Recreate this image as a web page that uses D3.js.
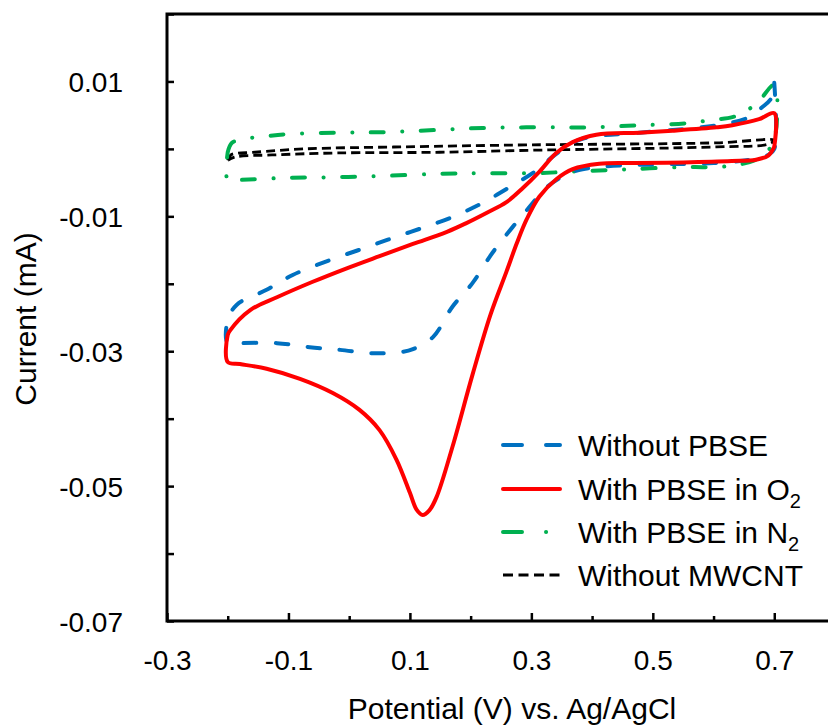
<!DOCTYPE html>
<html><head><meta charset="utf-8">
<script src="https://cdn.jsdelivr.net/npm/d3@7"></script>
<style>
body{margin:0;background:#fff}
svg{display:block;background:#fff}
text{font-family:"Liberation Sans",Arial,sans-serif;fill:#000}
</style>
</head><body>
<svg id="chart" width="828" height="728"></svg>
<script>
// ---- data (potential V, current mA) ----
const xTickLabels = ["-0.3","-0.1","0.1","0.3","0.5","0.7"];
const xMinorTicks = [-0.2, 0.0, 0.2, 0.4, 0.6];
const yTickLabels = ["-0.07","-0.05","-0.03","-0.01","0.01"];
const yMinorTicks = [-0.06, -0.04, -0.02, 0.0, 0.02];

const legendLabels = ["Without PBSE", "With PBSE in O", "With PBSE in N", "Without MWCNT"];
const legendSubs = ["", "2", "2", ""];

const withoutPBSE = [
  [0.700, 0.0098],[0.700, 0.0000],[0.690,-0.0009],[0.667,-0.0015],[0.600,-0.0021],
  [0.500,-0.0023],[0.420,-0.0026],[0.380,-0.0031],[0.358,-0.0038],[0.325,-0.0057],
  [0.297,-0.0086],[0.269,-0.0116],[0.236,-0.0154],[0.203,-0.0199],[0.170,-0.0234],
  [0.138,-0.0279],[0.105,-0.0297],[0.088,-0.0301],[0.039,-0.0303],[-0.015,-0.0298],
  [-0.065,-0.0294],[-0.119,-0.0288],[-0.180,-0.0288],[-0.200,-0.0288],[-0.200,-0.0254],
  [-0.185,-0.0231],[-0.136,-0.0209],[-0.093,-0.0187],[-0.032,-0.0165],[0.022,-0.0148],
  [0.072,-0.0132],[0.121,-0.0117],[0.170,-0.0101],[0.220,-0.0080],[0.269,-0.0054],
  [0.302,-0.0036],[0.346,-0.0004],[0.384, 0.0015],[0.478, 0.0024],[0.605, 0.0035],
  [0.659, 0.0047],[0.679, 0.0061],[0.695, 0.0075],[0.700, 0.0098]
];

const withPBSEinO2 = [
  [0.700, 0.0003],[0.690,-0.0010],[0.670,-0.0016],[0.630,-0.0018],[0.550,-0.0020],
  [0.470,-0.0021],[0.412,-0.0022],[0.368,-0.0030],[0.341,-0.0045],[0.313,-0.0071],
  [0.292,-0.0105],[0.276,-0.0140],[0.259,-0.0182],[0.233,-0.0245],[0.203,-0.0335],
  [0.170,-0.0442],[0.144,-0.0516],[0.132,-0.0536],[0.121,-0.0543],[0.111,-0.0535],
  [0.100,-0.0510],[0.078,-0.0461],[0.050,-0.0417],[0.017,-0.0387],[-0.027,-0.0362],
  [-0.081,-0.0341],[-0.136,-0.0326],[-0.180,-0.0319],[-0.200,-0.0316],[-0.200,-0.0276],
  [-0.196,-0.0269],[-0.163,-0.0239],[-0.119,-0.0220],[-0.060,-0.0197],[-0.004,-0.0177],
  [0.050,-0.0159],[0.105,-0.0141],[0.161,-0.0123],[0.193,-0.0110],[0.226,-0.0095],
  [0.259,-0.0079],[0.286,-0.0058],[0.313,-0.0034],[0.341,-0.0006],[0.368, 0.0010],
  [0.407, 0.0021],[0.478, 0.0024],[0.532, 0.0027],[0.605, 0.0032],[0.631, 0.0035],
  [0.675, 0.0044],[0.700, 0.0053],[0.700, 0.0003]
];

const withPBSEinN2 = [
  [-0.200,-0.0005],[-0.193, 0.0009],[-0.172, 0.0015],[-0.142, 0.0018],[-0.101, 0.0022],
  [-0.019, 0.0024],[0.063, 0.0025],[0.220, 0.0031],[0.313, 0.0032],[0.396, 0.0032],
  [0.478, 0.0035],[0.555, 0.0038],[0.598, 0.0043],[0.631, 0.0047],[0.647, 0.0053],
  [0.672, 0.0068],[0.700, 0.0095],[0.700, 0.0013],[0.687,-0.0005],[0.670,-0.0016],
  [0.631,-0.0025],[0.590,-0.0027],[0.549,-0.0027],[0.466,-0.0030],[0.384,-0.0033],
  [0.302,-0.0036],[0.220,-0.0036],[0.149,-0.0037],[0.059,-0.0040],[-0.024,-0.0042],
  [-0.106,-0.0043],[-0.183,-0.0046],[-0.200,-0.0046],[-0.200,-0.0005]
];

const withoutMWCNT = [
  [-0.200,-0.0017],[-0.195,-0.0009],[-0.155,-0.0005],[-0.073, 0.0000],[0.087, 0.0003],
  [0.300, 0.0006],[0.605, 0.0009],[0.700, 0.0013],[0.690, 0.0007],[0.605, 0.0003],
  [0.300,-0.0002],[0.149,-0.0005],[-0.019,-0.0006],[-0.127,-0.0009],[-0.188,-0.0012],
  [-0.200,-0.0017]
];

// ---- styles ----
const seriesData = [withoutPBSE, withPBSEinO2, withPBSEinN2, withoutMWCNT];
const seriesStyle = [
  {color:"#0070C0", width:4,   dash:"12.5,19.5", cap:"round", legendDash:"19,24"},
  {color:"#FF0000", width:4,   dash:null,        cap:"round", legendDash:null},
  {color:"#00B050", width:4,   dash:"13,18.5,0.1,18.5", cap:"round", legendDash:"19,24,0.1,30"},
  {color:"#000000", width:2.8, dash:"9,5",       cap:"butt",  legendDash:"10,5.5"}
];

const svg = d3.select("#chart");
const W = 828, H = 728;
const mLeft = 167, mRight = 835, mTop = 14, mBottom = 621;

const x = d3.scaleLinear().domain([-0.3, 0.8]).range([mLeft, mRight]);
const y = d3.scaleLinear().domain([-0.07, 0.02]).range([mBottom, mTop]);

svg.append("rect").attr("width", W).attr("height", H).attr("fill", "#fff");

// curves
const line = d3.line().x(d => x(d[0])).y(d => y(d[1])).curve(d3.curveCatmullRom.alpha(0.5));
const drawOrder = [3, 2, 0, 1];
drawOrder.forEach(i => {
  const s = seriesStyle[i];
  svg.append("path")
    .attr("d", line(seriesData[i]))
    .attr("fill", "none")
    .attr("stroke", s.color)
    .attr("stroke-width", s.width)
    .attr("stroke-linecap", s.cap)
    .attr("stroke-linejoin", "round")
    .attr("stroke-dasharray", s.dash);
});

// axes: minor ticks
svg.append("g").attr("transform", `translate(0,${mBottom})`)
  .call(d3.axisBottom(x).tickValues(xMinorTicks).tickSize(-5).tickFormat(""))
  .call(g => g.select(".domain").remove())
  .call(g => g.selectAll("line").attr("stroke-width", 2.5));
svg.append("g").attr("transform", `translate(${mLeft},0)`)
  .call(d3.axisLeft(y).tickValues(yMinorTicks).tickSize(-7).tickFormat(""))
  .call(g => g.select(".domain").remove())
  .call(g => g.selectAll("line").attr("stroke-width", 2.5));

// axes: labelled ticks
svg.append("g").attr("transform", `translate(0,${mBottom})`)
  .call(d3.axisBottom(x).tickValues(xTickLabels.map(Number)).tickSize(-8)
        .tickFormat((d, i) => xTickLabels[i]))
  .call(g => g.select(".domain").remove())
  .call(g => g.selectAll("line").attr("stroke-width", 2.5))
  .call(g => g.selectAll("text").attr("y", 49).attr("dy", null)
        .attr("font-size", 28).attr("font-family", "Liberation Sans, Arial, sans-serif").attr("fill", "#000"));
svg.append("g").attr("transform", `translate(${mLeft},0)`)
  .call(d3.axisLeft(y).tickValues(yTickLabels.map(Number)).tickSize(-7)
        .tickFormat((d, i) => yTickLabels[i]))
  .call(g => g.select(".domain").remove())
  .call(g => g.selectAll("line").attr("stroke-width", 2.5))
  .call(g => g.selectAll("text").attr("x", -44).attr("dy", "0.36em")
        .attr("font-size", 28).attr("font-family", "Liberation Sans, Arial, sans-serif").attr("fill", "#000"));

// frame
svg.append("rect")
  .attr("x", mLeft).attr("y", mTop)
  .attr("width", mRight - mLeft).attr("height", mBottom - mTop)
  .attr("fill", "none").attr("stroke", "#000").attr("stroke-width", 3);

// axis titles
svg.append("text").attr("x", 512).attr("y", 719).attr("text-anchor", "middle")
  .attr("font-size", 30).text("Potential (V) vs. Ag/AgCl");
svg.append("text").attr("transform", "translate(36,319) rotate(-90)")
  .attr("text-anchor", "middle").attr("font-size", 30).text("Current (mA)");

// legend
const legY = [445, 489, 532, 575];
legendLabels.forEach((lab, i) => {
  const s = seriesStyle[i];
  svg.append("line")
    .attr("x1", 503).attr("x2", 560).attr("y1", legY[i]).attr("y2", legY[i])
    .attr("stroke", s.color).attr("stroke-width", s.width)
    .attr("stroke-linecap", s.cap)
    .attr("stroke-dasharray", s.legendDash);
  const t = svg.append("text").attr("x", 578).attr("y", legY[i] + 11)
    .attr("font-size", 30).text(lab);
  if (legendSubs[i]) {
    t.append("tspan").attr("font-size", 20).attr("dy", 8).text(legendSubs[i]);
  }
});
</script>
</body></html>
